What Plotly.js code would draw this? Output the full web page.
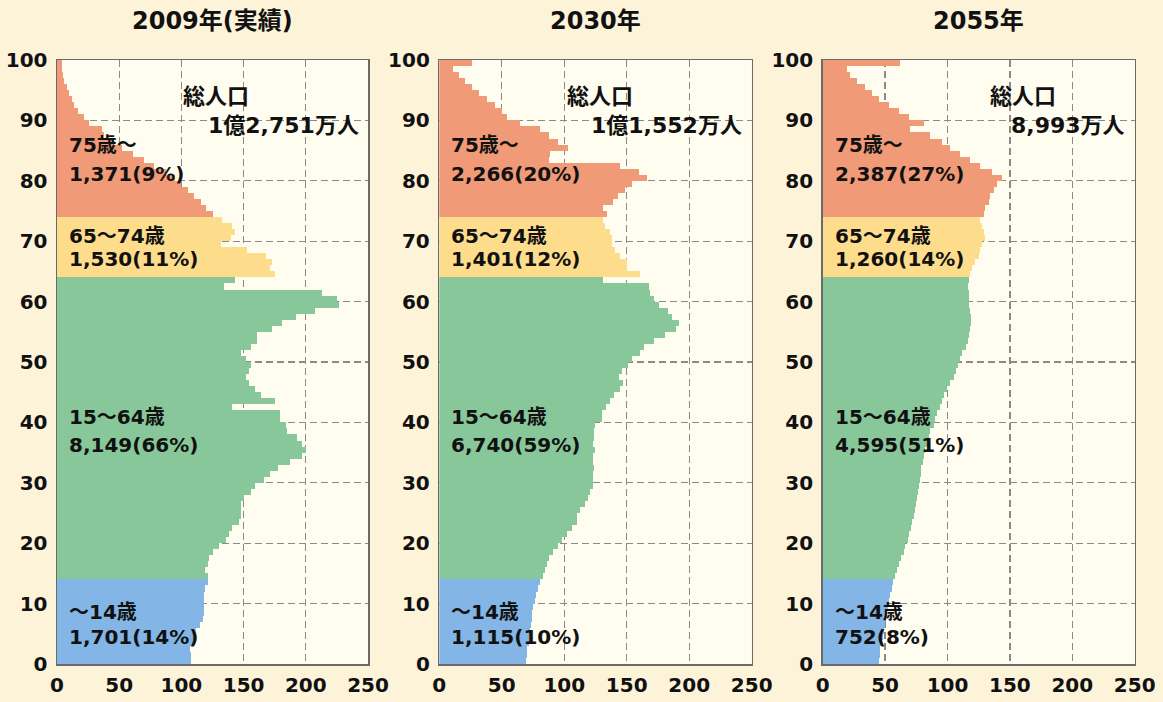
<!DOCTYPE html>
<html><head><meta charset="utf-8">
<script src="https://cdn.plot.ly/plotly-3.0.1.min.js"></script>
<style>html,body{margin:0;padding:0;background:#fdf3d8;}#chart{width:1163px;height:702px;}</style>
</head><body><div id="chart"></div>
<script>
// ages 0..100 (100 = 100歳以上), population in 万人
const ages = [...Array(101).keys()];
const pop2009 = [107,108,108,107,109,111,112,115,117,118,
  118,118,118,119,121,121,119,121,122,125,
  130,136,138,141,146,148,148,148,150,156,
  159,166,171,178,187,197,200,197,193,185,
  184,179,179,141,175,164,159,154,152,154,
  156,152,148,156,161,161,173,181,192,207,
  227,225,213,134,143,175,171,173,168,153,
  132,140,143,141,133,125,120,116,110,105,
  100,95,88,78,70,61,52,46,38,36,
  26,22,17,14,12,10,8,6,5,4,4];
const pop2030 = [69,69.4,70,70.5,71.6,72,72.6,73,74,74,
  75.3,76.7,77.5,79.3,80.7,82.8,84.7,86,88,90.8,
  94.6,98,102,106,110,110,113,116.7,119.4,121,
  123,123,123,124,123.4,123.4,124.7,123,124,124,
  124.7,130,130,133.5,137,140,144.8,147,144,146,
  151,154,160.8,164,172,180.8,189.6,191.5,186,182.7,
  176,171.5,169,167.5,131,160.8,150,150,144.8,140.8,
  138,138,136.8,132.7,131,134,131,139,143,149,
  154,166,159.5,145,88,88.7,103,95,88,80.7,
  64.6,54,50,44.6,38,31.8,26,20.6,16,11,26];
const pop2055 = [44,44.9,45.7,46.2,47,48,48.9,49.7,50.7,51.5,
  52.4,53.4,54.2,55.6,56.4,58.2,59.6,61.4,63,65,
  66,68.4,69.4,70.5,71.6,73,73.7,74.8,75.6,76.4,
  77,78.3,79,79,80,81,82.3,83.6,85,86.3,
  89,90.3,91.6,93.7,95.6,97,99.6,102,105,106.8,
  108.4,110,112,115,116.5,117.5,118,118.6,118.6,117.8,
  117.5,117,117,116.5,117,118,120,122,125,126,
  127.7,129.8,129,127.7,126,129,129.8,133,134,137,
  139.7,144,135.7,126,118,110,102,95.6,86,69.7,
  81,69,61,53,45,39.5,33.6,27.5,22,19.5,61.7];
const panelTitles = ['2009年(実績)','2030年','2055年'];
const groupNames = ['～14歳','15～64歳','65～74歳','75歳～'];
const groupFirstAge = [0,15,65,75];
const groupLastAge = [14,64,74,100];
const groupText2009 = ['1,701(14%)','8,149(66%)','1,530(11%)','1,371(9%)'];
const groupText2030 = ['1,115(10%)','6,740(59%)','1,401(12%)','2,266(20%)'];
const groupText2055 = ['752(8%)','4,595(51%)','1,260(14%)','2,387(27%)'];
const totalLabel = '総人口';
const totals = ['1億2,751万人','1億1,552万人','8,993万人'];
const xTicks = [0,50,100,150,200,250];

// ---- styling / layout ----
const groupColors = ['#83b6e6','#88c79a','#fddc8c','#f09a78'];
const FONT = "'DejaVu Sans', 'Noto Sans CJK JP', sans-serif";
const pops = [pop2009, pop2030, pop2055];
const groupTexts = [groupText2009, groupText2030, groupText2055];
const xDomains = [[57/1163,368/1163],[439.3/1163,751.7/1163],[822.7/1163,1134.7/1163]];
const yDomain = [38/702, 642/702];
const nameY = [8.6, 40.9, 70.9, 85.9];
const valY = [4.4, 36.2, 67.1, 81.1];
const totalLabelX = [100, 100.5, 132.5];

const traces = [];
const layout = {
  width:1163, height:702, margin:{l:0,r:0,t:0,b:0},
  paper_bgcolor:'#fdf3d8', plot_bgcolor:'#fffdf0',
  showlegend:false, bargap:0, barmode:'overlay',
  annotations:[]
};
for (let p=0;p<3;p++){
  const sfx = p===0 ? '' : String(p+1);
  for (let g=0; g<4; g++){
    const lo = groupFirstAge[g], hi = groupLastAge[g];
    traces.push({
      type:'bar', orientation:'h',
      x: pops[p].slice(lo, hi+1),
      y: ages.slice(lo, hi+1),
      width:1, offset:-1,
      marker:{color:groupColors[g], line:{width:0}},
      xaxis:'x'+sfx, yaxis:'y'+sfx, hoverinfo:'x+y'
    });
    layout.annotations.push({xref:'x'+sfx, yref:'y'+sfx, x:8, y:nameY[g], xanchor:'left', yanchor:'middle',
      text:groupNames[g], showarrow:false, font:{family:FONT,size:20,color:'#111',weight:'bold'}});
    layout.annotations.push({xref:'x'+sfx, yref:'y'+sfx, x:8, y:valY[g], xanchor:'left', yanchor:'middle',
      text:groupTexts[p][g], showarrow:false, font:{family:FONT,size:20,color:'#111',weight:'bold'}});
  }
  layout.annotations.push({xref:'x'+sfx, yref:'y'+sfx, x:totalLabelX[p], y:93.9, xanchor:'left', yanchor:'middle',
    text:totalLabel, showarrow:false, font:{family:FONT,size:22,color:'#111',weight:'bold'}});
  layout.annotations.push({xref:'x'+sfx, yref:'y'+sfx, x:244, y:89.2, xanchor:'right', yanchor:'middle',
    text:totals[p], showarrow:false, font:{family:FONT,size:22,color:'#111',weight:'bold'}});
  layout.annotations.push({xref:'x'+sfx+' domain', yref:'paper', x:0.5, y:(702-21)/702, xanchor:'center', yanchor:'middle',
    text:panelTitles[p], showarrow:false, font:{family:FONT,size:24,color:'#111',weight:'bold'}});
  const axCommon = {showgrid:true, gridcolor:'#8a8a8a', gridwidth:1.2, griddash:'7px,4px',
    showline:true, mirror:true, linecolor:'#6a6a6a', linewidth:1.5, zeroline:false, ticks:'',
    tickfont:{family:FONT,size:20,color:'#111',weight:'bold'}, fixedrange:true};
  layout['xaxis'+sfx] = Object.assign({}, axCommon, {domain:xDomains[p], range:[0,250], tickmode:'array', tickvals:xTicks,
    anchor:'y'+sfx, ticklabelstandoff:2});
  layout['yaxis'+sfx] = Object.assign({}, axCommon, {domain:yDomain, range:[0,100], dtick:10, tick0:0,
    anchor:'x'+sfx, ticklabelstandoff:4});
}
Plotly.newPlot('chart', traces, layout, {displayModeBar:false, staticPlot:true});
</script>
</body></html>
